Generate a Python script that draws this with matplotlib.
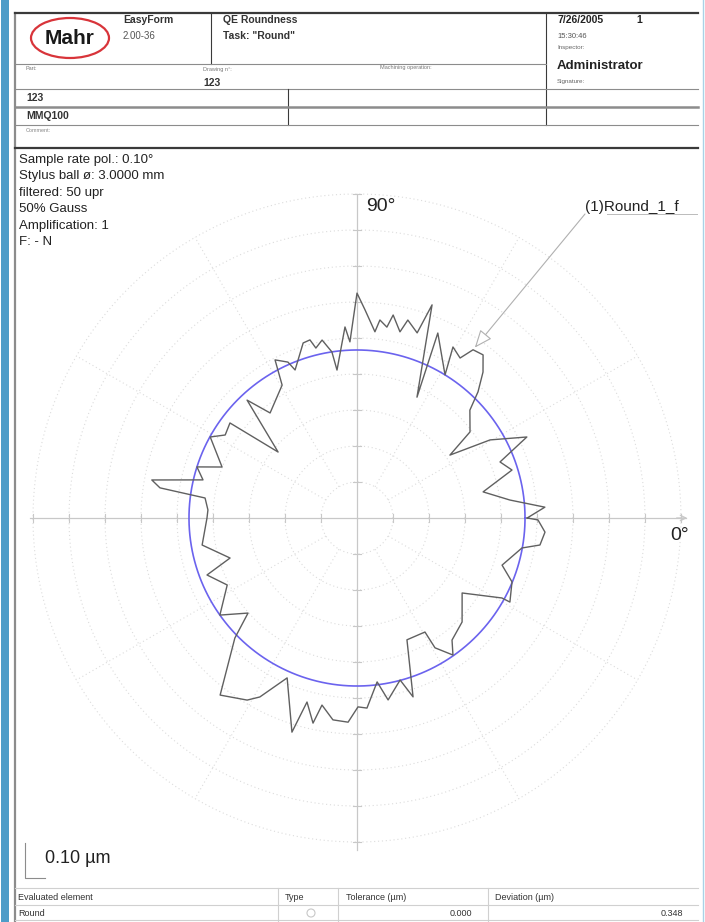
import numpy as np
import matplotlib
matplotlib.use("Agg")
import matplotlib.pyplot as plt
from matplotlib.patches import Ellipse, Circle

plt.rcParams['font.family'] = ['Liberation Sans', 'DejaVu Sans']

# roundness profile, in trace order: angle (deg) and deviation from the LS circle (um)
angle_deg = [0.0, 3.3, 6.7, 11.7, 17.2, 21.4, 25.5, 30.4, 34.1, 37.3, 43.7, 46.2, 49.2, 52.3,
             55.4, 57.2, 60.7, 58.4, 66.4, 63.6, 70.6, 72.0, 75.6, 77.0, 79.9, 81.1, 83.4, 84.5,
             87.8, 90.0, 92.3, 93.6, 97.7, 98.6, 101.1, 103.6, 104.8, 107.1, 112.7, 113.9, 117.4,
             119.4, 129.6, 133.0, 140.1, 143.2, 147.8, 151.1, 159.3, 162.3, 166.1, 169.5, 171.3,
             172.5, 176.9, 180.0, 189.9, 197.5, 200.8, 207.3, 215.3, 221.1, 224.5, 232.3, 238.9,
             241.5, 246.4, 253.1, 254.8, 257.9, 259.4, 263.2, 267.5, 270.3, 273.0, 277.0, 279.7,
             284.9, 287.4, 292.3, 300.8, 301.0, 305.0, 307.9, 315.3, 324.5, 331.1, 331.2, 337.6,
             342.0, 349.7, 351.6, 355.7, 359.4, 360.0]
deviation_um = [0.006, 0.056, -0.039, -0.109, -0.016, -0.040, 0.056, -0.038, -0.155, -0.072,
                -0.033, 0.019, 0.069, 0.106, 0.101, 0.062, 0.078, 0.000, 0.094, -0.092, 0.161,
                0.074, 0.101, 0.064, 0.106, 0.070, 0.087, 0.053, 0.112, 0.158, 0.023, 0.065,
                -0.052, 0.000, 0.037, 0.019, 0.045, 0.042, -0.021, 0.007, 0.028, -0.043, -0.088,
                -0.019, -0.181, -0.026, -0.034, -0.001, -0.066, 0.000, -0.026, 0.113, 0.087,
                -0.041, -0.052, -0.050, -0.030, -0.097, -0.021, -0.061, 0.000, -0.065, 0.009,
                0.155, 0.124, 0.099, 0.018, 0.155, 0.063, 0.116, 0.062, 0.098, 0.101, 0.058,
                0.062, -0.008, 0.046, -0.001, 0.054, -0.101, -0.098, -0.046, -0.002, -0.037,
                -0.056, -0.108, -0.007, 0.018, -0.001, -0.043, -0.001, 0.047, 0.057, 0.036, 0.006]

info_lines = ["Sample rate pol.: 0.10°", "Stylus ball ø: 3.0000 mm", "filtered: 50 upr",
              "50% Gauss", "Amplification: 1", "F: - N"]
table_head = ["Evaluated element", "Type", "Tolerance (µm)", "Deviation (µm)"]
element = "Round"
tolerance = 0.000
deviation = 0.348

ref_radius = 0.4667   # LS circle drawn at this radius on the chart scale
ring_step = 0.10      # um per ring

fig = plt.figure(figsize=(7.05, 9.22), dpi=100)

# page layer in pixel coordinates
page = fig.add_axes([0, 0, 1, 1])
page.set_xlim(0, 705)
page.set_ylim(922, 0)
page.axis("off")

page.add_patch(plt.Rectangle((1, 0), 8, 922, color="#4d9cc8", lw=0))
page.plot([702.5, 702.5], [0, 922], color="#a9d2e6", lw=1)
dark = "#3a3a3a"
grey = "#8c8c8c"
page.plot([15, 15], [13, 922], color=grey, lw=1.6)
page.plot([15, 698], [13, 13], color=dark, lw=1.6)
page.plot([211, 211], [13, 64], color=dark, lw=0.8)
page.plot([546, 546], [13, 125], color=dark, lw=0.8)
page.plot([15, 546], [64, 64], color=grey, lw=0.8)
page.plot([15, 698], [89, 89], color=grey, lw=0.8)
page.plot([288, 288], [89, 125], color=dark, lw=0.8)
page.plot([15, 698], [107, 107], color=grey, lw=1.8)
page.plot([15, 698], [125, 125], color=grey, lw=0.8)
page.plot([15, 698], [148, 148], color=dark, lw=1.6)

page.add_patch(Ellipse((70, 38), 78, 40, fill=False, ec="#d8343a", lw=1.6))
page.text(70, 39, "Mahr", fontsize=15, fontweight="bold", ha="center", va="center", color="#1a1a1a")
page.text(123, 20, "EasyForm", fontsize=7.5, fontweight="bold", va="center", color="#333")
page.text(123, 36, "2.00-36", fontsize=7, va="center", color="#555")
page.text(223, 20, "QE Roundness", fontsize=7.5, fontweight="bold", va="center", color="#333")
page.text(223, 36, 'Task: "Round"', fontsize=7.5, fontweight="bold", va="center", color="#333")
page.text(557, 20, "7/26/2005", fontsize=7.5, fontweight="bold", va="center", color="#222")
page.text(636, 20, "1", fontsize=7.5, fontweight="bold", va="center", color="#222")
page.text(557, 36, "15:30:46", fontsize=5.5, va="center", color="#555")
page.text(557, 48, "Inspector:", fontsize=4.5, va="center", color="#666")
page.text(557, 66, "Administrator", fontsize=9.5, fontweight="bold", va="center", color="#222")
page.text(557, 82, "Signature:", fontsize=4.5, va="center", color="#666")
page.text(26, 69, "Part:", fontsize=4, va="center", color="#777")
page.text(203, 69, "Drawing n°:", fontsize=4, va="center", color="#777")
page.text(203, 83, "123", fontsize=7.5, fontweight="bold", va="center", color="#333")
page.text(380, 68, "Machining operation:", fontsize=4, va="center", color="#777")
page.text(26, 98, "123", fontsize=7.5, fontweight="bold", va="center", color="#333")
page.text(26, 116, "MMQ100", fontsize=7.5, fontweight="bold", va="center", color="#333")
page.text(26, 130, "Comment:", fontsize=4, va="center", color="#888")

for i, s in enumerate(info_lines):
    page.text(19, 160 + i * 16.4, s, fontsize=9.5, va="center", color="#222")

# scale bar
page.plot([25, 25, 45], [843, 878, 878], color=grey, lw=0.8)
page.text(45, 858, "0.10 µm", fontsize=13, va="center", color="#222")

# result table
light = "#d0d0d0"
page.plot([15, 698], [888, 888], color=light, lw=0.8)
page.plot([15, 698], [905, 905], color=light, lw=0.8)
page.plot([15, 698], [920, 920], color=light, lw=0.8)
for xv in [278, 338, 488]:
    page.plot([xv, xv], [888, 922], color=light, lw=0.8)
for xv, s in zip([18, 285, 346, 495], table_head):
    page.text(xv, 897, s, fontsize=6.5, va="center", color="#333")
page.text(18, 913, element, fontsize=6.5, va="center", color="#333")
page.add_patch(Circle((311, 913), 4, fill=False, ec="#c8c8c8", lw=0.8))
page.text(472, 913, f"{tolerance:.3f}", fontsize=6.5, ha="right", va="center", color="#333")
page.text(683, 913, f"{deviation:.3f}", fontsize=6.5, ha="right", va="center", color="#333")

# polar diagram, 360 px per um, centre at (357, 518) px
W, H = 705, 922
px = 360.0
cx, cy = 357, 518
left, right, top, bottom = 15, 697, 148, 885
ax = fig.add_axes([left / W, (H - bottom) / H, (right - left) / W, (bottom - top) / H])
ax.set_xlim((left - cx) / px, (right - cx) / px)
ax.set_ylim((cy - bottom) / px, (cy - top) / px)
ax.axis("off")
ax.patch.set_alpha(0)

grid_col = "#dcdcdc"
t = np.linspace(0, 2 * np.pi, 400)
for k in range(1, 10):
    r = k * ring_step
    ax.plot(r * np.cos(t), r * np.sin(t), color=grid_col, lw=0.8, ls=(0, (1, 2.5)))
for a in range(30, 360, 30):
    if a % 90 == 0:
        continue
    ar = np.radians(a)
    ax.plot([0.1 * np.cos(ar), 0.9 * np.cos(ar)], [0.1 * np.sin(ar), 0.9 * np.sin(ar)],
            color=grid_col, lw=0.8, ls=(0, (1, 2.5)))

axis_col = "#c8c8c8"
ax.plot([-0.908, 0.915], [0, 0], color=axis_col, lw=0.9)
ax.plot([0, 0], [-0.922, 0.9], color=axis_col, lw=0.9)
ax.annotate("", xy=(0.925, 0), xytext=(0.88, 0),
            arrowprops=dict(arrowstyle="->", color=axis_col, lw=0.9))
for k in range(-9, 10):
    if k == 0:
        continue
    v = k * ring_step
    ax.plot([v, v], [-0.012, 0.012], color=axis_col, lw=0.8)
    ax.plot([-0.012, 0.012], [v, v], color=axis_col, lw=0.8)

ax.text(0.025, 0.865, "90°", fontsize=14, va="center", color="#222")
ax.text(0.87, -0.05, "0°", fontsize=14, va="center", color="#222")

# least squares circle
ax.plot(ref_radius * np.cos(t), ref_radius * np.sin(t), color="#6b63ee", lw=1.2)

# measured profile
th = np.radians(angle_deg)
rr = ref_radius + np.array(deviation_um)
ax.plot(rr * np.cos(th), rr * np.sin(th), color="#606060", lw=1.0, solid_joinstyle="round")

# element label with leader arrow
tip = 14
page.text(585, 207, "(1)Round_1_f", fontsize=11, va="center", color="#222")
page.plot([607, 697], [214, 214], color="#bbbbbb", lw=0.7)
ax.annotate("", xy=(rr[tip] * np.cos(th[tip]), rr[tip] * np.sin(th[tip])),
            xytext=(585, H - 214), textcoords="figure pixels",
            arrowprops=dict(arrowstyle="-|>,head_length=1.1,head_width=0.45",
                            color="#b0b0b0", fc="white", lw=0.8, shrinkA=0, shrinkB=2))

fig.savefig("out.png", dpi=100)
